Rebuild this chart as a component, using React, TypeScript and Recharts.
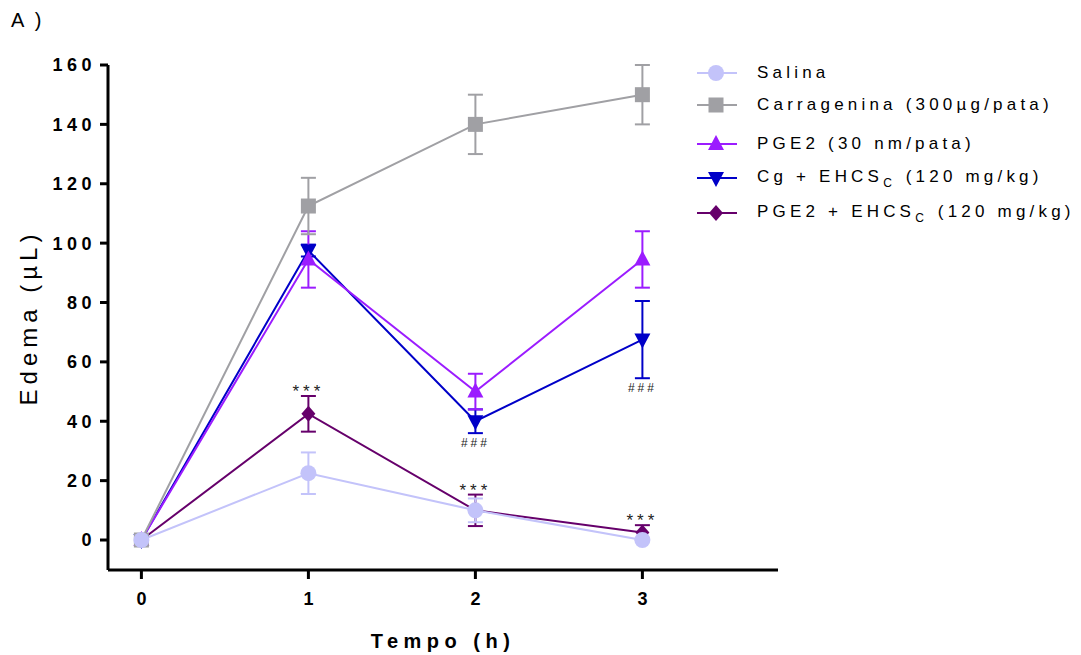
import { LineChart, Line, XAxis, YAxis, ErrorBar, ReferenceDot, Label } from "recharts";

// tempo (h)
const times = [0, 1, 2, 3];

// edema (µL) mean and SEM for each group
const salina = [0, 22.5, 10, 0];
const salinaErr = [0, 7, 4, 0];
const carragenina = [0, 112.5, 140, 150];
const carrageninaErr = [0, 9.5, 10, 10];
const pge2 = [0, 94.5, 50, 94.5];
const pge2Err = [0, 9.5, 6, 9.5];
const cgEhcs = [0, 97.5, 40, 67.5];
const cgEhcsErr = [0, 2, 4, 13];
const pge2Ehcs = [0, 42.5, 10, 2.5];
const pge2EhcsErr = [0, 6, 5.3, 2.5];

// significance marks
const starTimes = [1, 2, 3]; // *** over PGE2 + EHCS
const hashTimes = [2, 3]; // ### under Cg + EHCS

const yTicks = [0, 20, 40, 60, 80, 100, 120, 140, 160];

const data = times.map((t, i) => ({
  t,
  salina: salina[i],
  salinaErr: salinaErr[i],
  carragenina: carragenina[i],
  carrageninaErr: carrageninaErr[i],
  pge2: pge2[i],
  pge2Err: pge2Err[i],
  cgEhcs: cgEhcs[i],
  cgEhcsErr: cgEhcsErr[i],
  pge2Ehcs: pge2Ehcs[i],
  pge2EhcsErr: pge2EhcsErr[i],
}));

const FONT = "'Liberation Sans', Arial, sans-serif";

const C_SAL = "#c3c3fa";
const C_CAR = "#a0a0a4";
const C_PGE = "#9b1cff";
const C_CG = "#0000c8";
const C_PE = "#66006b";

type Shape = "circle" | "square" | "up" | "down" | "diamond";

const marker = (shape: Shape, cx: number, cy: number, color: string, key?: any) => {
  if (shape === "circle") return <circle key={key} cx={cx} cy={cy} r={8} fill={color} />;
  if (shape === "square")
    return <rect key={key} x={cx - 7.5} y={cy - 7.5} width={15} height={15} fill={color} />;
  if (shape === "up")
    return <polygon key={key} points={`${cx},${cy - 9} ${cx - 8},${cy + 6} ${cx + 8},${cy + 6}`} fill={color} />;
  if (shape === "down")
    return <polygon key={key} points={`${cx},${cy + 9} ${cx - 8},${cy - 6} ${cx + 8},${cy - 6}`} fill={color} />;
  return <polygon key={key} points={`${cx},${cy - 8} ${cx + 7},${cy} ${cx},${cy + 8} ${cx - 7},${cy}`} fill={color} />;
};

const dotFn = (shape: Shape, color: string) => (p: any) => marker(shape, p.cx, p.cy, color, `d${p.index}`);

// drawn in reverse so Salina ends on top
const series = [
  { key: "pge2Ehcs", color: C_PE, shape: "diamond" as Shape },
  { key: "cgEhcs", color: C_CG, shape: "down" as Shape },
  { key: "pge2", color: C_PGE, shape: "up" as Shape },
  { key: "carragenina", color: C_CAR, shape: "square" as Shape },
  { key: "salina", color: C_SAL, shape: "circle" as Shape },
];

const sub = <sub style={{ fontSize: 12, verticalAlign: -5, letterSpacing: 5 }}>C</sub>;
const legendItems = [
  { label: <>Salina</>, color: C_SAL, shape: "circle" as Shape },
  { label: <>Carragenina (300µg/pata)</>, color: C_CAR, shape: "square" as Shape },
  { label: <>PGE2 (30 nm/pata)</>, color: C_PGE, shape: "up" as Shape },
  { label: <>Cg + EHCS{sub} (120 mg/kg)</>, color: C_CG, shape: "down" as Shape },
  { label: <>PGE2 + EHCS{sub} (120 mg/kg)</>, color: C_PE, shape: "diamond" as Shape },
];
const legendRowsY = [73, 105, 144, 178, 213];

export default function App() {
  return (
    <div style={{ position: "absolute", left: 0, top: 0, width: 1081, height: 655, background: "#fff", fontFamily: FONT }}>
      <div style={{ position: "absolute", left: 11, top: 9, fontSize: 20, letterSpacing: 3 }}>A )</div>
      <LineChart
        width={1081}
        height={655}
        data={data}
        margin={{ top: 65, right: 303, left: 0, bottom: 0 }}
      >
        <XAxis
          dataKey="t"
          type="number"
          domain={[-0.2, 3.812]}
          ticks={times}
          allowDataOverflow
          height={85}
          axisLine={{ stroke: "#000", strokeWidth: 3 }}
          tickLine={{ stroke: "#000", strokeWidth: 3 }}
          tickSize={9}
          tickMargin={13}
          tick={{ fill: "#000", fontSize: 18, fontWeight: "bold", fontFamily: FONT }}
        >
          <Label
            value="Tempo (h)"
            position="insideBottom"
            offset={7}
            style={{ fill: "#000", fontSize: 20, fontWeight: "bold", letterSpacing: 5.5, fontFamily: FONT }}
          />
        </XAxis>
        <YAxis
          type="number"
          domain={[-10.1, 160]}
          ticks={yTicks}
          allowDataOverflow
          width={108}
          axisLine={{ stroke: "#000", strokeWidth: 3 }}
          tickLine={{ stroke: "#000", strokeWidth: 3 }}
          tickSize={8}
          tickMargin={4}
          tick={{ fill: "#000", fontSize: 18, fontWeight: "bold", fontFamily: FONT, letterSpacing: 4.5 }}
        >
          <Label
            value="Edema (µL)"
            angle={-90}
            position="insideLeft"
            offset={28}
            style={{ fill: "#000", fontSize: 24, letterSpacing: 5, fontFamily: FONT, textAnchor: "middle" }}
          />
        </YAxis>
        {series.map((s) => (
          <Line
            key={s.key}
            dataKey={s.key}
            stroke={s.color}
            strokeWidth={2}
            type="linear"
            dot={dotFn(s.shape, s.color)}
            activeDot={false}
            isAnimationActive={false}
          >
            <ErrorBar dataKey={`${s.key}Err`} direction="y" width={7.5} stroke={s.color} strokeWidth={2} />
          </Line>
        ))}
        {starTimes.map((t) => {
          const i = times.indexOf(t);
          return (
            <ReferenceDot
              key={`s${t}`}
              x={t}
              y={pge2Ehcs[i] + pge2EhcsErr[i]}
              r={1}
              fill="none"
              stroke="none"
              label={{ value: "***", position: "top", offset: -2, fill: "#222", fontSize: 17, letterSpacing: 4, fontFamily: FONT }}
            />
          );
        })}
        {hashTimes.map((t) => {
          const i = times.indexOf(t);
          return (
            <ReferenceDot
              key={`h${t}`}
              x={t}
              y={cgEhcs[i] - cgEhcsErr[i]}
              r={1}
              fill="none"
              stroke="none"
              label={{ value: "###", position: "bottom", offset: 4, fill: "#222", fontSize: 12, letterSpacing: 3, fontFamily: FONT }}
            />
          );
        })}
      </LineChart>
      {legendItems.map((it, i) => (
        <div
          key={i}
          style={{
            position: "absolute",
            left: 697,
            top: legendRowsY[i] - 12,
            height: 24,
            display: "flex",
            alignItems: "center",
            whiteSpace: "nowrap",
          }}
        >
          <svg width={40} height={24} style={{ display: "block" }}>
            <line x1={0} y1={12} x2={40} y2={12} stroke={it.color} strokeWidth={2} />
            {marker(it.shape, 19, 12, it.color)}
          </svg>
          <span style={{ marginLeft: 20, fontSize: 17, letterSpacing: 4.2, color: "#000" }}>{it.label}</span>
        </div>
      ))}
    </div>
  );
}
